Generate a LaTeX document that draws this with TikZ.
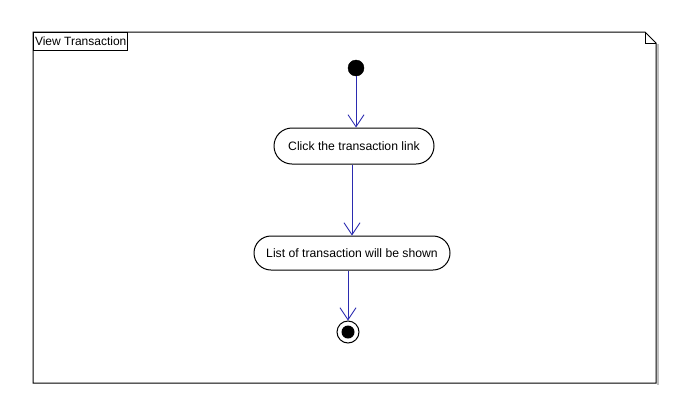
\documentclass[tikz,border=0pt]{standalone}
\usepackage{fontspec}
\setmainfont{Liberation Sans}
\usepackage{tikz}
\usetikzlibrary{arrows.meta,positioning,shapes.misc,calc}
\definecolor{UMLblue}{HTML}{2B2BB0}
\tikzset{
  uml/action/.style={draw, rounded rectangle, line width=1pt, fill=white, inner sep=2pt, align=center, font=\fontsize{12.2}{14}\selectfont},
  uml/initial/.style={circle, fill=black, draw=black, inner sep=0pt, minimum size=16pt},
  uml/final/.style={circle, draw=black, line width=1pt, fill=white, inner sep=0pt, minimum size=22pt},
  uml/flow/.style={draw=UMLblue, line width=0.9pt, -{Straight Barb[length=12pt,width=16pt]}},
  uml/frame/.style={draw, line width=1pt},
  uml/label/.style={draw, line width=1pt, fill=white, inner xsep=1.5pt, inner ysep=1pt, minimum height=18pt, font=\fontsize{12}{14}\selectfont},
  shade/.style={draw=black!25, line width=1.5pt}
}
\begin{document}
\begin{tikzpicture}[x=1pt, y=-1pt]
  \useasboundingbox (0,0) rectangle (688,416);
  % frame with folded corner
  \coordinate (fnw) at (33,32);
  \coordinate (fse) at (656,383);
  \draw[shade] (658,44) -- (658,384.5);
  \draw[uml/frame] (fnw) -- (645,32) -- (656,43) -- (fse) -- (33,383) -- cycle;
  \draw[uml/frame] (645,32) -- (645,43) -- (656,43);
  \node[uml/label, anchor=north west] (title) at (fnw) {View Transaction};

  % nodes
  \node[uml/initial] (init) at (356,68) {};
  \node[uml/action, minimum width=164pt, minimum height=36pt] (click) at (354,146) {Click the transaction link};
  \node[uml/action, minimum width=200pt, minimum height=34pt] (list) at (352,253) {List of transaction will be shown};
  \node[uml/final] (fin) at (348,332) {};
  \node[circle, fill=black, inner sep=0pt, minimum size=13pt] (fincore) at (fin) {};

  % flows
  \draw[uml/flow] (init) -- (init |- click.north);
  \draw[uml/flow] (click.south -| list.north) -- (list.north);
  \draw[uml/flow] (list.south -| fin.north) -- (fin.north);
\end{tikzpicture}
\end{document}
